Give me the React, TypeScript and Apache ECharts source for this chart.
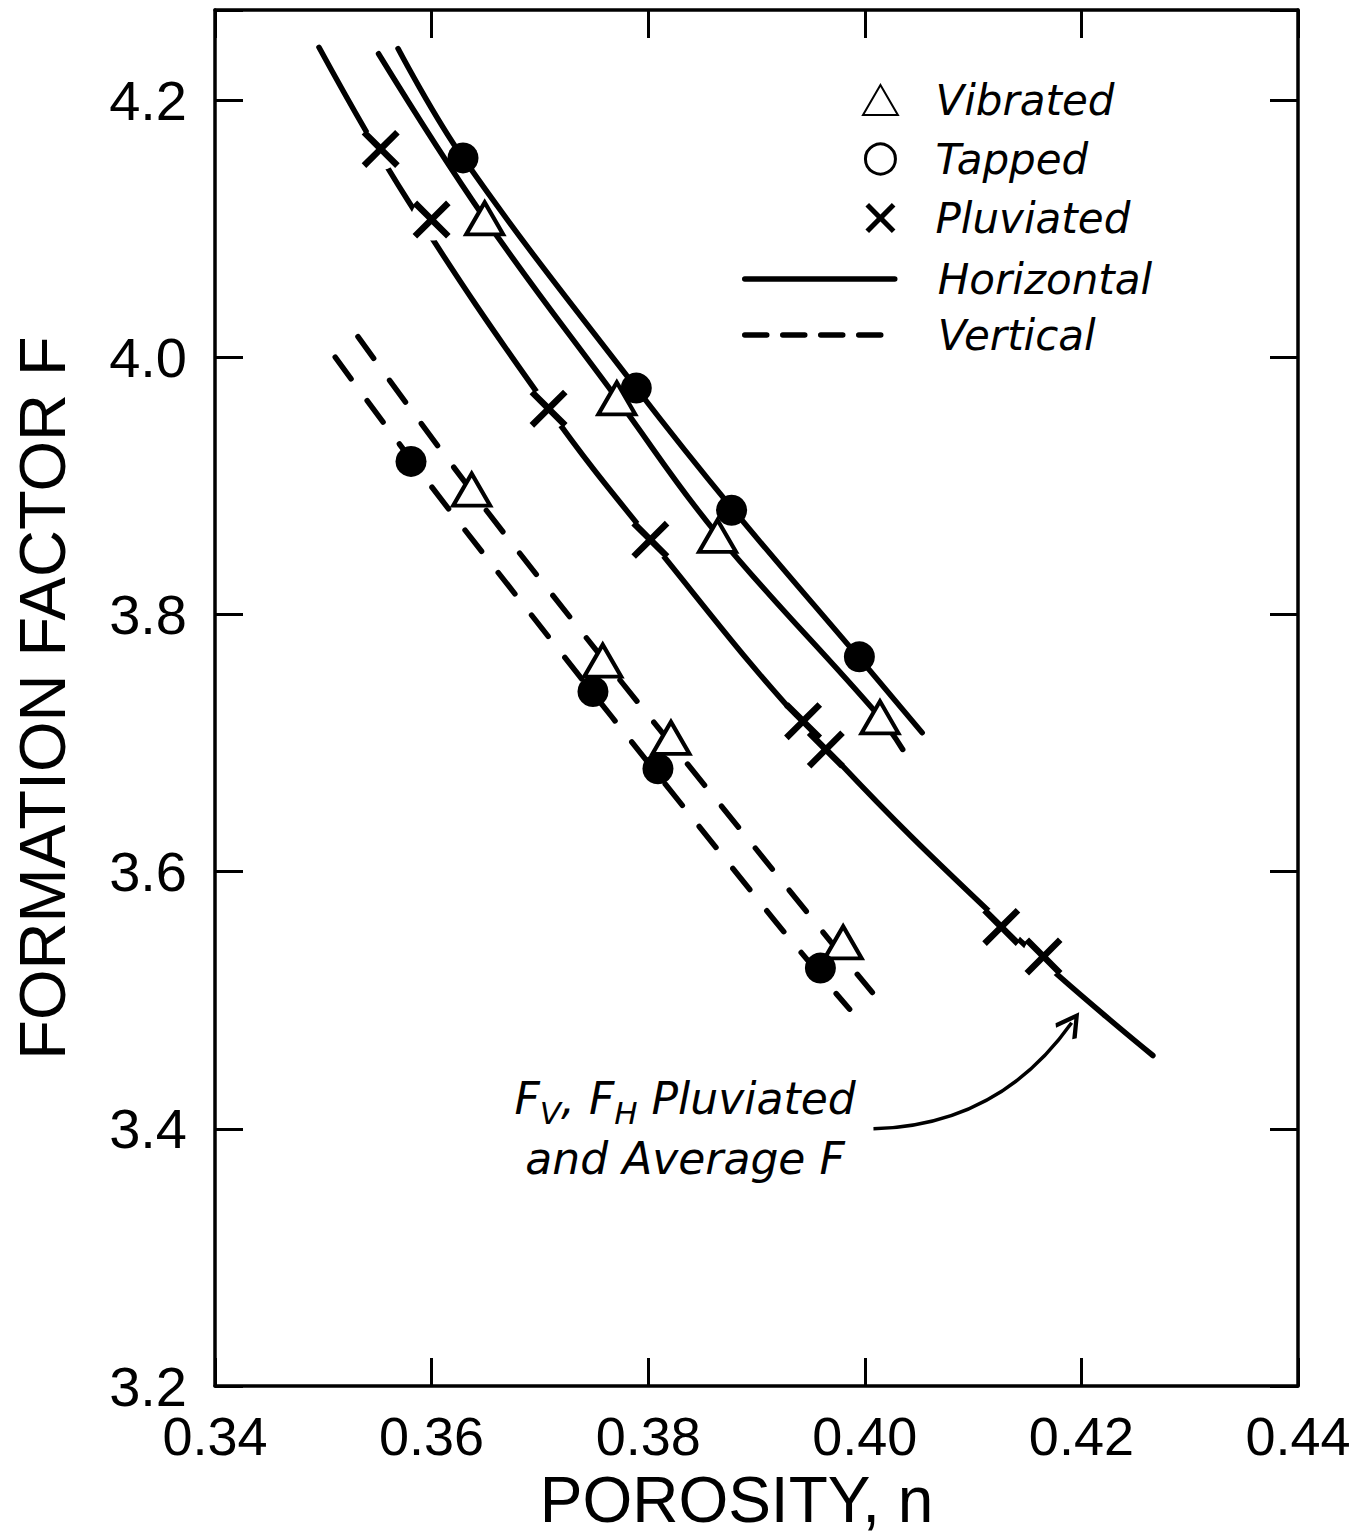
import React, { useEffect, useRef } from "react";
import * as echarts from "echarts";

// ---- Data ----
const xTicks = [0.34, 0.36, 0.38, 0.4, 0.42, 0.44];
const yTicks = [3.2, 3.4, 3.6, 3.8, 4.0, 4.2];

// Measured points (porosity n, formation factor F)
const vibratedH = [[0.3649, 4.108], [0.3771, 3.968], [0.3864, 3.861], [0.4014, 3.72]];
const tappedH = [[0.3629, 4.155], [0.3789, 3.976], [0.3877, 3.881], [0.3995, 3.767]];
const pluviatedPts = [
  [0.3553, 4.162], [0.36, 4.107], [0.3708, 3.96], [0.3802, 3.858],
  [0.3943, 3.717], [0.3964, 3.695], [0.4126, 3.557], [0.4165, 3.534],
];
const vibratedV = [[0.3637, 3.897], [0.3758, 3.764], [0.3821, 3.704], [0.398, 3.545]];
const tappedV = [[0.3581, 3.919], [0.3749, 3.74], [0.3809, 3.68], [0.3959, 3.525]];

// Drawn curves
const curveTappedH = [[0.3569, 4.24], [0.3629, 4.155], [0.3789, 3.976], [0.3878, 3.882], [0.3994, 3.767], [0.4053, 3.708]];
const curveVibratedH = [[0.3551, 4.236], [0.3649, 4.108], [0.3771, 3.968], [0.3864, 3.862], [0.4013, 3.721], [0.4035, 3.695]];
const curvePluviated = [[0.3496, 4.241], [0.3578, 4.122], [0.3708, 3.96], [0.3802, 3.858], [0.3953, 3.706], [0.4145, 3.545], [0.4266, 3.457]];
const curveTappedV = [[0.3511, 4.0], [0.3624, 3.873], [0.391, 3.569], [0.3986, 3.493]];
const curveVibratedV = [[0.3532, 4.016], [0.3667, 3.863], [0.3968, 3.546], [0.4007, 3.506]];

// Annotation
const noteAnchor = [0.3834, 3.4];
const arrowCoords = [[0.4008, 3.4], [0.4191, 3.4824]];

const legendMarkers = ["Vibrated", "Tapped", "Pluviated"];
const legendLines = ["Horizontal", "Vertical"];

const TRI = "path://M50,0 L100,86 L0,86 Z";
const XSYM = "path://M0,12 L12,0 L50,38 L88,0 L100,12 L62,50 L100,88 L88,100 L50,62 L12,100 L0,88 L38,50 Z";
const ARROWHEAD = "path://M50,0 L100,80 L88,92 L50,30 L12,92 L0,80 Z";

const TICK_FONT = "Liberation Sans";
const ITALIC_FONT = "DejaVu Sans";

export default function App() {
  const ref = useRef<HTMLDivElement>(null);

  useEffect(() => {
    if (!ref.current) return;
    const chart = echarts.init(ref.current, undefined, { renderer: "svg" });

    const axisLine = { show: true, onZero: false, lineStyle: { color: "#000", width: 3.5 } };
    const tick = { show: true, inside: true, length: 28, lineStyle: { color: "#000", width: 3 } };

    const solid = (data: number[][]) => ({
      type: "line",
      name: "Horizontal",
      data,
      smooth: 0.4,
      symbol: "none",
      lineStyle: { color: "#000", width: 5.5, cap: "round", opacity: 1 },
      itemStyle: { color: "#000", opacity: 1 },
      z: 2,
    });
    const dashed = (data: number[][]) => ({
      type: "line",
      name: "Vertical",
      data,
      smooth: 0.4,
      symbol: "none",
      lineStyle: { color: "#000", width: 5.5, type: [27, 27], cap: "round", opacity: 1 },
      itemStyle: { color: "#000", opacity: 1 },
      z: 2,
    });

    const legendText = {
      color: "#000",
      fontFamily: ITALIC_FONT,
      fontStyle: "italic",
      fontSize: 42,
      lineHeight: 42,
    };

    chart.setOption({
      animation: false,
      backgroundColor: "#fff",
      grid: { left: 215, right: 63, top: 10, bottom: 149, containLabel: false },
      xAxis: [
        {
          type: "value",
          min: xTicks[0],
          max: xTicks[xTicks.length - 1],
          interval: 0.02,
          position: "bottom",
          axisLine,
          axisTick: tick,
          splitLine: { show: false },
          axisLabel: {
            color: "#000",
            fontFamily: TICK_FONT,
            fontSize: 54,
            lineHeight: 52,
            margin: 24,
            formatter: (v: number) => v.toFixed(2),
          },
          name: "POROSITY, n",
          nameLocation: "middle",
          nameGap: 82,
          nameTextStyle: { color: "#000", fontFamily: TICK_FONT, fontSize: 64, padding: [0, 40, 0, 0] },
        },
        {
          type: "value",
          min: xTicks[0],
          max: xTicks[xTicks.length - 1],
          interval: 0.02,
          position: "top",
          axisLine,
          axisTick: tick,
          axisLabel: { show: false },
          splitLine: { show: false },
        },
      ],
      yAxis: [
        {
          type: "value",
          min: yTicks[0],
          max: 4.27,
          interval: 0.2,
          position: "left",
          axisLine,
          axisTick: tick,
          splitLine: { show: false },
          axisLabel: {
            color: "#000",
            fontFamily: TICK_FONT,
            fontSize: 56,
            lineHeight: 46,
            margin: 28,
            formatter: (v: number) => (Math.abs(v * 5 - Math.round(v * 5)) < 1e-6 ? v.toFixed(1) : ""),
          },
          name: "FORMATION FACTOR F",
          nameLocation: "middle",
          nameGap: 140,
          nameTextStyle: { color: "#000", fontFamily: TICK_FONT, fontSize: 65 },
        },
        {
          type: "value",
          min: yTicks[0],
          max: 4.27,
          interval: 0.2,
          position: "right",
          axisLine,
          axisTick: tick,
          axisLabel: { show: false },
          splitLine: { show: false },
        },
      ],
      legend: [
        {
          data: [
            { name: legendMarkers[0] },
            { name: legendMarkers[1], icon: "circle", itemStyle: { color: "#fff", borderColor: "#000", borderWidth: 3, opacity: 1 } },
            { name: legendMarkers[2] },
          ],
          orient: "vertical",
          left: 857,
          top: 74,
          itemWidth: 100,
          itemHeight: 30,
          itemGap: 17,
          selectedMode: false,
          textStyle: legendText,
        },
        {
          data: [
            {
              name: legendLines[0],
              itemStyle: { color: "transparent", borderWidth: 0, opacity: 0 },
              lineStyle: { color: "#000", width: 5.5, type: "solid", opacity: 1 },
            },
            {
              name: legendLines[1],
              itemStyle: { color: "transparent", borderWidth: 0, opacity: 0 },
              lineStyle: { color: "#000", width: 5.5, type: [22, 16], opacity: 1 },
            },
          ],
          orient: "vertical",
          left: 737,
          top: 253,
          itemWidth: 150,
          itemHeight: 20,
          itemGap: 14,
          selectedMode: false,
          formatter: (name: string) => "{s|}" + name,
          textStyle: { ...legendText, rich: { s: { width: 38 } } },
        },
      ],
      series: [
        solid(curveTappedH),
        solid(curveVibratedH),
        solid(curvePluviated),
        dashed(curveTappedV),
        dashed(curveVibratedV),
        {
          type: "scatter",
          name: "gap",
          data: pluviatedPts,
          symbol: "circle",
          symbolSize: 42,
          itemStyle: { color: "#fff", opacity: 1 },
          silent: true,
          z: 3,
        },
        {
          type: "scatter",
          name: "Vibrated",
          data: [...vibratedH, ...vibratedV],
          symbol: TRI,
          symbolSize: [37, 32],
          itemStyle: { color: "#fff", borderColor: "#000", borderWidth: 4, opacity: 1 },
          z: 5,
        },
        {
          type: "scatter",
          name: "Tapped",
          data: [...tappedH, ...tappedV],
          symbol: "circle",
          symbolSize: 31,
          itemStyle: { color: "#000", opacity: 1 },
          z: 5,
        },
        {
          type: "scatter",
          name: "Pluviated",
          data: pluviatedPts,
          symbol: XSYM,
          symbolSize: 38,
          itemStyle: { color: "#000", opacity: 1 },
          z: 5,
        },
        {
          type: "scatter",
          name: "note",
          data: [noteAnchor],
          symbolSize: 0,
          silent: true,
          z: 6,
          itemStyle: { opacity: 1 },
          label: {
            show: true,
            position: "inside",
            align: "center",
            color: "#000",
            opacity: 1,
            formatter: "{i|F}{s|V}{i|, F}{s|H}{i| Pluviated}\n{i|and Average F}",
            rich: {
              i: { fontFamily: ITALIC_FONT, fontStyle: "italic", fontSize: 44, lineHeight: 60, color: "#000" },
              s: { fontFamily: ITALIC_FONT, fontStyle: "italic", fontSize: 31, lineHeight: 60, verticalAlign: "bottom", color: "#000" },
            },
          },
        },
        {
          type: "lines",
          name: "arrow",
          coordinateSystem: "cartesian2d",
          silent: true,
          z: 6,
          symbol: ["none", ARROWHEAD],
          symbolSize: 26,
          lineStyle: { color: "#000", width: 3.5, curveness: -0.25, opacity: 1 },
          data: [{ coords: arrowCoords }],
        },
      ],
    });

    return () => chart.dispose();
  }, []);

  return (
    <div
      ref={ref}
      style={{ position: "fixed", left: 0, top: 0, width: 1361, height: 1537, background: "#fff" }}
    />
  );
}
